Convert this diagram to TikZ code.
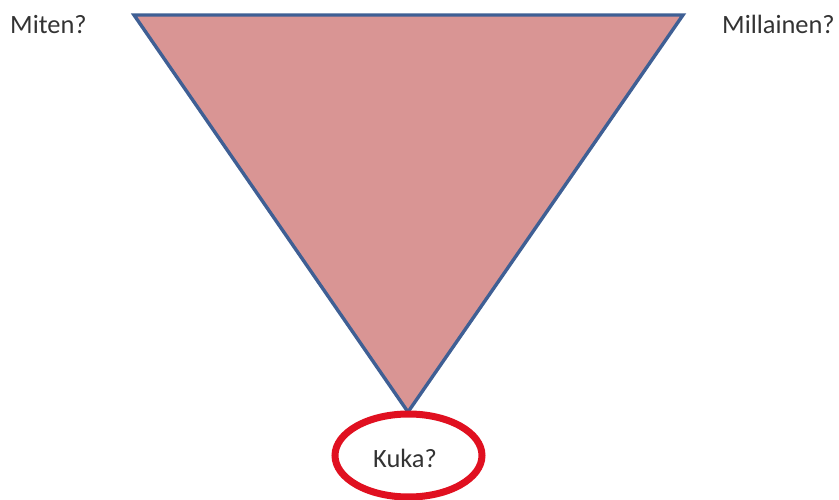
\documentclass[tikz,border=0pt]{standalone}
\usepackage{fontspec}
\usetikzlibrary{shapes.geometric}
\setmainfont{Carlito}
\definecolor{trifill}{HTML}{D99594}
\definecolor{triline}{HTML}{3F5F94}
\definecolor{ringred}{HTML}{E01020}
\definecolor{txt}{HTML}{333333}
\begin{document}
\begin{tikzpicture}[x=1pt,y=-1pt,
  lbl/.style={font=\fontsize{26.4}{30}\selectfont, text=txt, inner sep=0pt, anchor=base west}]
\useasboundingbox (0,0) rectangle (839,500);
\coordinate (tl) at (134,15);
\coordinate (tr) at (683,15);
\coordinate (ap) at (408,412);
\filldraw[fill=trifill, draw=triline, line width=3.4pt, line join=miter] (tl) -- (tr) -- (ap) -- cycle;
\node[draw=ringred, line width=7pt, ellipse, minimum width=147pt, minimum height=83pt, inner sep=0pt] (ring) at (408.5,455.5) {};
\node[lbl] (miten) at (10,33.5) {Miten?};
\node[lbl] (millainen) at (722,33.5) {Millainen?};
\node[lbl] (kuka) at (373,467) {Kuka?};
\end{tikzpicture}
\end{document}
